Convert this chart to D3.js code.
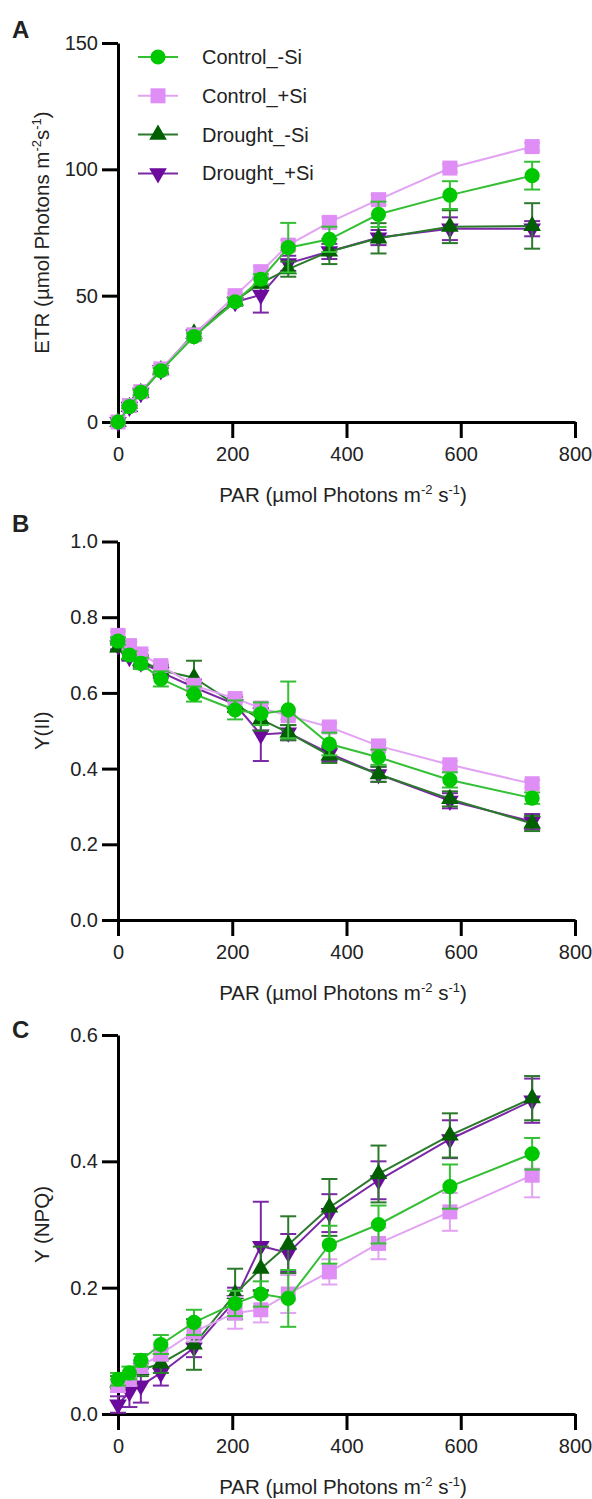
<!DOCTYPE html>
<html>
<head>
<meta charset="utf-8">
<script src="https://cdn.jsdelivr.net/npm/d3@7"></script>
<style>
  body { margin: 0; background: #fff; }
  svg text { font-family: "Liberation Sans", Arial, sans-serif; fill: #222; }
</style>
</head>
<body>
<svg id="chart" width="592" height="1499"></svg>
<script>
// PAR steps of the light curve
var par = [0, 20, 40, 75, 133, 205, 250, 298, 370, 456, 581, 725];
var groups = ["Control_-Si", "Control_+Si", "Drought_-Si", "Drought_+Si"];

// ETR, one row per group
var etrMean = [
  [0, 6.1, 11.7, 20.3, 33.8, 47.6, 56.5, 69, 72.3, 82.2, 89.8, 97.5],
  [0, 6.5, 12, 21, 34.5, 50, 59.5, 70, 79, 88, 100.5, 109],
  [0, 6, 11.5, 20.5, 35, 48, 55, 60.5, 67.5, 72.7, 77.3, 77.6],
  [0, 6, 11.5, 20.5, 34.5, 47.5, 50.3, 62.8, 67.5, 73, 76.5, 76.5]
];
var etrErr = [
  [0, 0.5, 1, 1, 1.5, 1.5, 2, 9.8, 5, 5, 5.5, 5.5],
  [0, 0.5, 0.5, 1, 1, 1, 2, 2, 2, 2, 1.5, 1.5],
  [0, 0.5, 1, 1, 1.5, 1.5, 2, 3, 5, 6, 6.5, 9],
  [0, 0.5, 1, 1, 1, 1.5, 7, 3, 3, 3, 4.5, 3]
];

// Y(II)
var yiiMean = [
  [0.737, 0.70, 0.678, 0.637, 0.597, 0.555, 0.545, 0.555, 0.465, 0.43, 0.37, 0.322],
  [0.752, 0.725, 0.703, 0.672, 0.62, 0.585, 0.56, 0.54, 0.51, 0.46, 0.41, 0.36],
  [0.72, 0.70, 0.685, 0.66, 0.64, 0.57, 0.53, 0.495, 0.435, 0.385, 0.32, 0.255],
  [0.725, 0.695, 0.68, 0.655, 0.615, 0.57, 0.49, 0.495, 0.44, 0.385, 0.315, 0.26]
];
var yiiErr = [
  [0.01, 0.01, 0.015, 0.02, 0.02, 0.025, 0.03, 0.075, 0.03, 0.02, 0.02, 0.015],
  [0.01, 0.01, 0.01, 0.01, 0.01, 0.01, 0.01, 0.01, 0.01, 0.01, 0.01, 0.01],
  [0.01, 0.01, 0.015, 0.015, 0.045, 0.02, 0.03, 0.02, 0.02, 0.02, 0.02, 0.02],
  [0.01, 0.01, 0.015, 0.015, 0.02, 0.02, 0.07, 0.02, 0.02, 0.02, 0.02, 0.02]
];

// Y(NPQ)
var npqMean = [
  [0.055, 0.065, 0.085, 0.11, 0.145, 0.175, 0.19, 0.183, 0.268, 0.30, 0.36, 0.412],
  [0.045, 0.055, 0.075, 0.095, 0.13, 0.16, 0.165, 0.19, 0.225, 0.27, 0.32, 0.378],
  [0.05, 0.055, 0.07, 0.08, 0.11, 0.19, 0.23, 0.268, 0.327, 0.38, 0.441, 0.50],
  [0.015, 0.035, 0.045, 0.065, 0.105, 0.18, 0.266, 0.255, 0.318, 0.37, 0.435, 0.496]
];
var npqErr = [
  [0.01, 0.01, 0.01, 0.015, 0.02, 0.02, 0.02, 0.045, 0.03, 0.03, 0.035, 0.025],
  [0.01, 0.01, 0.01, 0.01, 0.015, 0.025, 0.02, 0.03, 0.02, 0.025, 0.03, 0.035],
  [0.01, 0.01, 0.01, 0.015, 0.04, 0.04, 0.035, 0.045, 0.045, 0.045, 0.035, 0.035],
  [0.013, 0.024, 0.027, 0.02, 0.015, 0.02, 0.07, 0.03, 0.03, 0.03, 0.03, 0.035]
];

var xTicks = [0, 200, 400, 600, 800];

var markerFill = ["#00c800", "#df8ef5", "#005f00", "#6b0a9c"];
var lineCol = ["#35bf35", "#e3a3f3", "#2b7a2b", "#7c28a6"];
var shapes = [d3.symbolCircle, d3.symbolSquare, d3.symbolTriangle, d3.symbolTriangle];
var sizes = [180, 225, 135, 135];
var rot = [0, 0, 0, 180];

var svg = d3.select("#chart");

// text with m-2 s-1 style superscripts
function supText(t, parts) {
  parts.forEach(function(p, i) {
    var s = t.append("tspan").text(p);
    if (i % 2 == 1) s.attr("font-size", 13).attr("dy", -8);
    else if (i > 0) s.attr("dy", 8);
  });
}

function drawPanel(opt) {
  var x = d3.scaleLinear().domain([0, 800]).range([118, 575]);
  var y = d3.scaleLinear().domain(opt.domain).range([opt.bottom, opt.top]);
  var g = svg.append("g");

  // axes
  var ax = g.append("g")
    .attr("transform", "translate(0," + opt.bottom + ")")
    .call(d3.axisBottom(x).tickValues(xTicks).tickSize(16).tickSizeOuter(0).tickPadding(9));
  var ay = g.append("g")
    .attr("transform", "translate(118,0)")
    .call(d3.axisLeft(y).tickValues(opt.ticks).tickFormat(opt.fmt).tickSize(16).tickSizeOuter(0).tickPadding(4));
  [ax, ay].forEach(function(a) {
    a.selectAll("path, line").attr("stroke", "#000").attr("stroke-width", 3);
    a.selectAll("text").attr("font-size", 20).attr("fill", "#222")
      .style("font-family", "'Liberation Sans', Arial, sans-serif");
  });

  // series, first group on top
  d3.range(3, -1, -1).forEach(function(k) {
    var pts = par.map(function(p, i) {
      return { x: p, y: opt.mean[k][i], e: opt.err[k][i] };
    });
    var sg = g.append("g");
    sg.append("path")
      .datum(pts)
      .attr("fill", "none")
      .attr("stroke", lineCol[k])
      .attr("stroke-width", 2)
      .attr("d", d3.line().x(function(d) { return x(d.x); }).y(function(d) { return y(d.y); }));
    var eb = sg.selectAll(".eb").data(pts.filter(function(d) { return d.e > 0; }))
      .enter().append("g").attr("stroke", lineCol[k]).attr("stroke-width", 2);
    eb.append("line")
      .attr("x1", function(d) { return x(d.x); }).attr("x2", function(d) { return x(d.x); })
      .attr("y1", function(d) { return y(d.y - d.e); }).attr("y2", function(d) { return y(d.y + d.e); });
    eb.append("line")
      .attr("x1", function(d) { return x(d.x) - 8; }).attr("x2", function(d) { return x(d.x) + 8; })
      .attr("y1", function(d) { return y(d.y + d.e); }).attr("y2", function(d) { return y(d.y + d.e); });
    eb.append("line")
      .attr("x1", function(d) { return x(d.x) - 8; }).attr("x2", function(d) { return x(d.x) + 8; })
      .attr("y1", function(d) { return y(d.y - d.e); }).attr("y2", function(d) { return y(d.y - d.e); });
    sg.selectAll(".mk").data(pts).enter().append("path")
      .attr("d", d3.symbol().type(shapes[k]).size(sizes[k]))
      .attr("fill", markerFill[k])
      .attr("transform", function(d) {
        return "translate(" + x(d.x) + "," + y(d.y) + ") rotate(" + rot[k] + ")";
      });
  });

  // x title
  var xt = g.append("text")
    .attr("x", 343).attr("y", opt.bottom + 80)
    .attr("text-anchor", "middle").attr("font-size", 20.5);
  supText(xt, ["PAR (µmol Photons m", "-2", " s", "-1", ")"]);

  // y title
  var yt = g.append("text")
    .attr("transform", "translate(49," + (opt.top + opt.bottom) / 2 + ") rotate(-90)")
    .attr("text-anchor", "middle").attr("font-size", 20.5);
  if (opt.etr) supText(yt, ["ETR (µmol Photons m", "-2", "s", "-1", ")"]);
  else yt.text(opt.ytitle);

  // panel letter
  g.append("text").attr("x", 12).attr("y", opt.letterY)
    .attr("font-size", 24).attr("font-weight", "bold").attr("fill", "#000")
    .text(opt.letter);
}

drawPanel({ domain: [0, 150], ticks: [0, 50, 100, 150], fmt: d3.format("d"),
  top: 43, bottom: 422, mean: etrMean, err: etrErr, etr: true, letter: "A", letterY: 38 });
drawPanel({ domain: [0, 1], ticks: [0, 0.2, 0.4, 0.6, 0.8, 1.0], fmt: d3.format(".1f"),
  top: 541.5, bottom: 920, mean: yiiMean, err: yiiErr, ytitle: "Y(II)", letter: "B", letterY: 532 });
drawPanel({ domain: [0, 0.6], ticks: [0, 0.2, 0.4, 0.6], fmt: d3.format(".1f"),
  top: 1035, bottom: 1414, mean: npqMean, err: npqErr, ytitle: "Y (NPQ)", letter: "C", letterY: 1038 });

// legend
var leg = svg.append("g");
groups.forEach(function(name, k) {
  var cy = 57 + k * 38.8;
  leg.append("line").attr("x1", 138).attr("x2", 178).attr("y1", cy).attr("y2", cy)
    .attr("stroke", lineCol[k]).attr("stroke-width", 2);
  leg.append("path")
    .attr("d", d3.symbol().type(shapes[k]).size(sizes[k]))
    .attr("fill", markerFill[k])
    .attr("transform", "translate(158," + cy + ") rotate(" + rot[k] + ")");
  leg.append("text").attr("x", 202).attr("y", cy).attr("dy", "0.35em")
    .attr("font-size", 20).text(name);
});
</script>
</body>
</html>
